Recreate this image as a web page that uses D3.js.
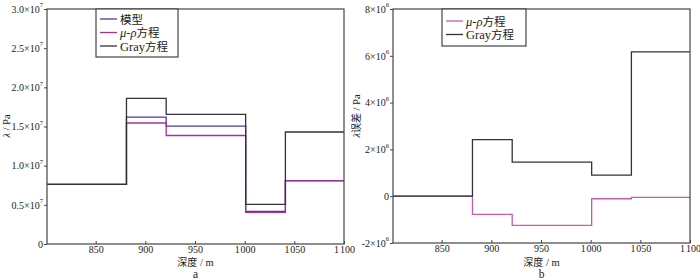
<!DOCTYPE html>
<html>
<head>
<meta charset="utf-8">
<script src="https://cdn.jsdelivr.net/npm/d3@7"></script>
<style>
  body { margin: 0; background: #fff; }
</style>
</head>
<body>
<svg id="chart" width="700" height="280"></svg>
<script>
// depth breakpoints (m): each value holds from its depth to the next one
const depths = [801, 881, 921, 1001, 1041, 1100];

// panel a: lambda (Pa)
const modelVals = [7.6e6, 16.2e6, 15.05e6, 4.15e6, 8.1e6];
const muRhoVals = [7.6e6, 15.45e6, 13.85e6, 4.05e6, 8.06e6];
const grayVals  = [7.6e6, 18.6e6, 16.55e6, 5.05e6, 14.3e6];

// panel b: lambda error (Pa)
const muRhoErr = [0, -0.78e6, -1.25e6, -0.11e6, -0.05e6];
const grayErr  = [0, 2.42e6, 1.46e6, 0.9e6, 6.17e6];

const xTicks = [850, 900, 950, 1000, 1050, 1100];
const yTicksA = [0, 0.5e7, 1.0e7, 1.5e7, 2.0e7, 2.5e7, 3.0e7];
const yTicksB = [-2e6, 0, 2e6, 4e6, 6e6, 8e6];

const colModel = "#4a3d98";
const colMuA = "#a8309a";
const colMuB = "#c25cb4";
const colGray = "#333333";
const serif = "'Times New Roman', 'Liberation Serif', 'DejaVu Serif', serif";
const cjk = "'Noto Sans CJK SC'";

const svg = d3.select("#chart");

function toPoints(vals){
    const pts = vals.map((v, i) => ({depth: depths[i], value: v}));
    pts.push({depth: depths[depths.length - 1], value: vals[vals.length - 1]});
    return pts;
}

function fmtDepth(v){
    return v >= 1000 ? "1\u200A" + String(v).slice(1) : String(v);
}

function drawPanel(cfg){
    const g = svg.append("g");
    const x = d3.scaleLinear().domain([801, 1100]).range([cfg.left, cfg.right]);
    const y = d3.scaleLinear().domain(cfg.yDomain).range([cfg.bottom, cfg.top]);

    // x axis, ticks pointing inward
    const xAxis = d3.axisBottom(x).tickValues(xTicks).tickSizeInner(-3).tickSizeOuter(0).tickPadding(2).tickFormat(fmtDepth);
    const gx = g.append("g").attr("transform", `translate(0,${cfg.bottom})`).call(xAxis)
        .attr("font-family", null).attr("font-size", null);
    gx.select(".domain").remove();
    gx.selectAll("line").attr("stroke", "#444");
    gx.selectAll("text").attr("fill", "#222").style("font-family", serif).style("font-size", "10px");

    // y axis, ticks outward
    const yAxis = d3.axisLeft(y).tickValues(cfg.yTicks).tickSizeInner(3).tickSizeOuter(0).tickFormat("");
    const gy = g.append("g").attr("transform", `translate(${cfg.left},0)`).call(yAxis)
        .attr("font-family", null).attr("font-size", null);
    gy.select(".domain").remove();
    gy.selectAll("line").attr("stroke", "#444");
    gy.selectAll(".tick").each(function(v){
        const t = d3.select(this).append("text")
            .attr("x", -4).attr("dy", "0.32em")
            .attr("text-anchor", "end")
            .attr("fill", "#222")
            .style("font-family", serif).style("font-size", "10px");
        if (v === 0) { t.text("0"); return; }
        t.append("tspan").text(cfg.mant(v) + "×10");
        t.append("tspan").style("font-size", "6.5px").attr("dy", "-0.85em").text(cfg.exp);
    });

    // lines
    const line = d3.line().x(d => x(d.depth)).y(d => y(d.value)).curve(d3.curveStepAfter);
    cfg.series.forEach(s => {
        g.append("path")
            .attr("d", line(toPoints(s.values)))
            .attr("fill", "none")
            .attr("stroke", s.color)
            .attr("stroke-width", 1.3);
    });

    // frame
    g.append("rect")
        .attr("x", cfg.left).attr("y", cfg.top)
        .attr("width", cfg.right - cfg.left).attr("height", cfg.bottom - cfg.top)
        .attr("fill", "none").attr("stroke", "#444").attr("stroke-width", 1.2);

    // legend
    const lg = g.append("g").attr("transform", `translate(${cfg.legend.x},${cfg.top})`);
    lg.append("rect")
        .attr("width", cfg.legend.w).attr("height", cfg.legend.h)
        .attr("fill", "#fff").attr("stroke", "#444").attr("stroke-width", 1.2);
    cfg.series.forEach((s, i) => {
        const yy = cfg.legend.y0 + i * cfg.legend.dy;
        lg.append("line").attr("x1", 4).attr("x2", 21).attr("y1", yy).attr("y2", yy)
            .attr("stroke", s.color).attr("stroke-width", 1.3);
        const t = lg.append("text").attr("x", 24).attr("y", yy).attr("dy", "0.36em")
            .attr("fill", "#222").style("font-family", serif).style("font-size", "12.5px");
        if (s.name === "mu") {
            t.append("tspan").style("font-style", "italic").text("μ-ρ");
            t.append("tspan").style("font-family", cjk).style("font-size", "11.5px").text("方程");
        } else if (s.name === "gray") {
            t.append("tspan").text("Gray");
            t.append("tspan").style("font-family", cjk).style("font-size", "11.5px").text("方程");
        } else {
            t.append("tspan").style("font-family", cjk).style("font-size", "11.5px").text("模型");
        }
    });

    // axis titles
    const cx = (cfg.left + cfg.right) / 2;
    const xt = g.append("text").attr("x", cx).attr("y", 266).attr("text-anchor", "middle")
        .attr("fill", "#222").style("font-family", serif).style("font-size", "10.5px");
    xt.append("tspan").style("font-family", cjk).style("font-size", "10px").text("深度");
    xt.append("tspan").text(" / m");
    g.append("text").attr("x", cx).attr("y", 278).attr("text-anchor", "middle")
        .attr("fill", "#222").style("font-family", serif).style("font-size", "11.5px").text(cfg.letter);

    const yt = g.append("text")
        .attr("transform", `translate(${cfg.yTitleX},${cfg.yTitleY}) rotate(-90)`)
        .attr("text-anchor", "middle").attr("fill", "#222")
        .style("font-family", serif).style("font-size", "10.5px");
    yt.append("tspan").style("font-style", "italic").text("λ");
    if (cfg.errTitle) yt.append("tspan").style("font-family", cjk).style("font-size", "10px").text("误差");
    yt.append("tspan").text(" / Pa");
}

drawPanel({
    left: 47, right: 344, top: 9, bottom: 244,
    yDomain: [0, 3e7], yTicks: yTicksA,
    mant: v => (v / 1e7).toFixed(1), exp: "7",
    series: [
        {name: "model", values: modelVals, color: colModel},
        {name: "mu", values: muRhoVals, color: colMuA},
        {name: "gray", values: grayVals, color: colGray}
    ],
    legend: {x: 96, w: 82, h: 48, y0: 10, dy: 13.5},
    letter: "a", yTitleX: 10, yTitleY: 126, errTitle: false
});

drawPanel({
    left: 393, right: 690, top: 9, bottom: 243,
    yDomain: [-2e6, 8e6], yTicks: yTicksB,
    mant: v => String(v / 1e6), exp: "6",
    series: [
        {name: "mu", values: muRhoErr, color: colMuB},
        {name: "gray", values: grayErr, color: colGray}
    ],
    legend: {x: 442, w: 84, h: 37, y0: 12, dy: 13.5},
    letter: "b", yTitleX: 360, yTitleY: 116, errTitle: true
});
</script>
</body>
</html>
